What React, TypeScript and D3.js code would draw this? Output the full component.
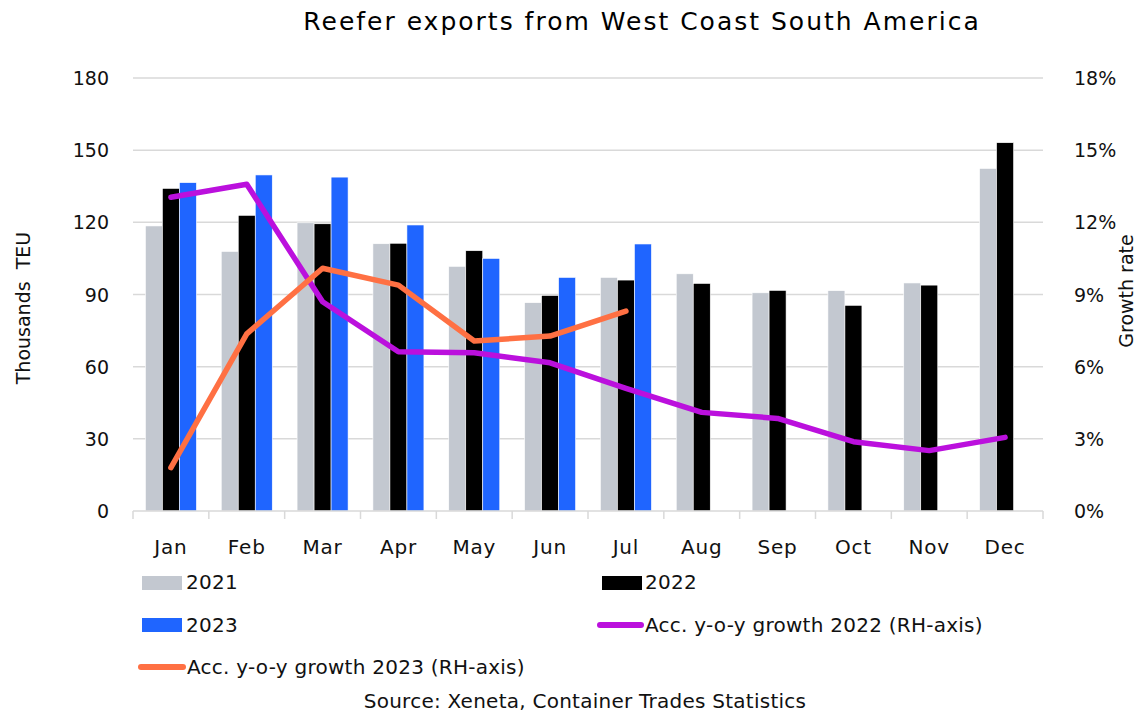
import React from "react";
import * as d3 from "d3";

const months = ["Jan", "Feb", "Mar", "Apr", "May", "Jun", "Jul", "Aug", "Sep", "Oct", "Nov", "Dec"];
const v2021 = [118.5, 107.9, 119.8, 111.1, 101.7, 86.6, 97.1, 98.6, 90.7, 91.6, 94.8, 142.4];
const v2022 = [134.1, 122.9, 119.4, 111.3, 108.2, 89.6, 96.0, 94.6, 91.7, 85.5, 93.9, 153.1];
const v2023 = [136.5, 139.7, 138.8, 118.9, 105.0, 97.1, 111.0];
const growth2022 = [13.04, 13.58, 8.7, 6.62, 6.58, 6.16, 5.1, 4.1, 3.85, 2.88, 2.51, 3.06];
const growth2023 = [1.8, 7.36, 10.09, 9.39, 7.07, 7.27, 8.31];
const leftTicks = [0, 30, 60, 90, 120, 150, 180];
const rightTicks = [0, 3, 6, 9, 12, 15, 18];

const W = 1137, H = 717;
const FONT = "'DejaVu Sans', sans-serif";
const C21 = "#C3C8D0", C22 = "#000000", C23 = "#1F65FF", CP = "#BB10DD", CO = "#FF7043";

export default function App() {
  const x0 = 133, x1 = 1043, yTop = 78, yBot = 511;
  const x = d3.scaleBand<string>().domain(months).range([x0, x1]).paddingInner(0).paddingOuter(0);
  const sub = d3.scaleBand<string>().domain(["a", "b", "c"]).range([0, x.bandwidth()]).paddingInner(0).paddingOuter(0.73);
  const yL = d3.scaleLinear().domain([0, 180]).range([yBot, yTop]);
  const yR = d3.scaleLinear().domain([0, 18]).range([yBot, yTop]);
  const cx = (m: string) => (x(m) as number) + x.bandwidth() / 2;
  const line = d3.line<number>().x((_, i) => cx(months[i])).y((d) => yR(d));
  const series: [number[], string, string][] = [[v2021, "a", C21], [v2022, "b", C22], [v2023, "c", C23]];
  const fs = 19;
  const lfs = 20;
  const ls = 0.25;
  return (
    <svg width={W} height={H} style={{ display: "block", position: "absolute", left: 0, top: 0, background: "#fff" }} fontFamily={FONT}>
      <rect width={W} height={H} fill="#fff" />
      <text x={642} y={30} textAnchor="middle" fontSize={25} letterSpacing={2} fill="#000">Reefer exports from West Coast South America</text>
      {leftTicks.map((t) => (
        <g key={t}>
          {t > 0 && <line x1={x0} x2={x1} y1={yL(t)} y2={yL(t)} stroke="#D9D9D9" strokeWidth={1.5} />}
          <text x={109} y={yL(t) + 7} textAnchor="end" fontSize={fs} fill="#111">{t}</text>
        </g>
      ))}
      {rightTicks.map((t) => (
        <text key={t} x={1074} y={yR(t) + 7} textAnchor="start" fontSize={fs} fill="#111">{t}%</text>
      ))}
      {series.map(([vals, key, col]) =>
        vals.map((v, i) => (
          <rect key={key + i} x={(x(months[i]) as number) + (sub(key) as number)} y={yL(v)} width={sub.bandwidth()} height={yL(0) - yL(v)} fill={col} stroke="#fff" strokeWidth={0.6} />
        ))
      )}
      <line x1={x0} x2={x1} y1={yBot} y2={yBot} stroke="#D9D9D9" strokeWidth={1.5} />
      {d3.range(13).map((i) => {
        const xx = x0 + i * x.bandwidth();
        return <line key={i} x1={xx} x2={xx} y1={yBot} y2={yBot + 8} stroke="#D9D9D9" strokeWidth={1.5} />;
      })}
      {months.map((m) => (
        <text key={m} x={cx(m)} y={554} textAnchor="middle" fontSize={lfs} letterSpacing={0.8} fill="#111">{m}</text>
      ))}
      <path d={line(growth2022) || ""} fill="none" stroke={CP} strokeWidth={5.5} strokeLinejoin="round" strokeLinecap="round" />
      <path d={line(growth2023) || ""} fill="none" stroke={CO} strokeWidth={5.5} strokeLinejoin="round" strokeLinecap="round" />
      <text transform={`translate(30,308) rotate(-90)`} textAnchor="middle" fontSize={fs} fill="#111" style={{ whiteSpace: "pre" }}>Thousands  TEU</text>
      <text transform={`translate(1133,291) rotate(-90)`} textAnchor="middle" fontSize={fs} fill="#111">Growth rate</text>
      {/* legend */}
      <rect x={142} y={576} width={40} height={14} fill={C21} />
      <text x={186} y={589} fontSize={lfs} letterSpacing={ls} fill="#111">2021</text>
      <rect x={602} y={576} width={40} height={14} fill={C22} />
      <text x={645} y={589} fontSize={lfs} letterSpacing={ls} fill="#111">2022</text>
      <rect x={142} y={618} width={40} height={14} fill={C23} />
      <text x={186} y={632} fontSize={lfs} letterSpacing={ls} fill="#111">2023</text>
      <line x1={600} x2={641} y1={625} y2={625} stroke={CP} strokeWidth={6} strokeLinecap="round" />
      <text x={645} y={632} fontSize={lfs} letterSpacing={ls} fill="#111">Acc. y-o-y growth 2022 (RH-axis)</text>
      <line x1={141} x2={183} y1={667} y2={667} stroke={CO} strokeWidth={6} strokeLinecap="round" />
      <text x={187} y={674} fontSize={lfs} letterSpacing={ls} fill="#111">Acc. y-o-y growth 2023 (RH-axis)</text>
      <text x={585} y={708} textAnchor="middle" fontSize={lfs} letterSpacing={ls} fill="#111">Source: Xeneta, Container Trades Statistics</text>
    </svg>
  );
}
